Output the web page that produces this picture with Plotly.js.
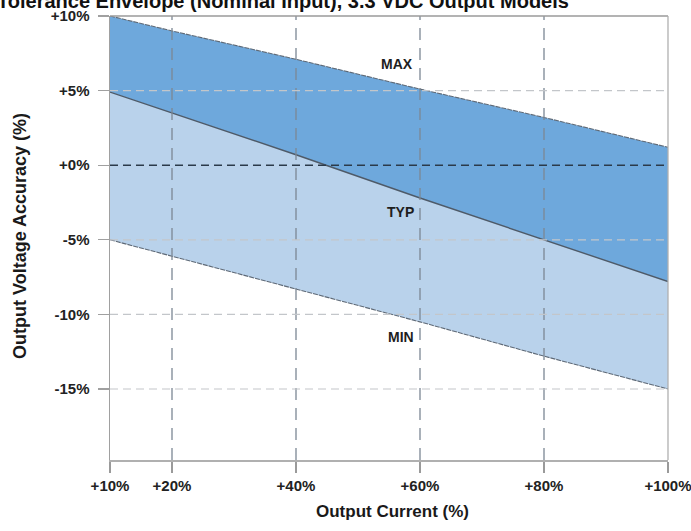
<!DOCTYPE html>
<html>
<head>
<meta charset="utf-8">
<script src="https://cdn.plot.ly/plotly-3.0.1.min.js"></script>
<style>html,body{margin:0;padding:0;background:#fff}#chart{width:691px;height:531px}</style>
</head>
<body>
<div id="chart"></div>
<script>
// Data
const outputCurrent = [10, 20, 40, 60, 80, 100];
const maxAccuracy = [10, 9.0, 7.1, 5.1, 3.2, 1.2];
const typAccuracy = [4.9, 3.5, 0.7, -2.2, -5.0, -7.8];
const minAccuracy = [-5, -6.1, -8.3, -10.5, -12.8, -15];

const xTickVals = [10, 20, 40, 60, 80, 100];
const xTickText = ['+10%', '+20%', '+40%', '+60%', '+80%', '+100%'];
const yTickVals = [10, 5, 0, -5, -10, -15];
const yTickText = ['+10%', '+5%', '+0%', '-5%', '-10%', '-15%'];
const xGridVals = [20, 40, 60, 80];
const yGridVals = [5, -5, -10, -15];
const zeroLine = [0];

const seriesLabels = [
  {text: 'MAX', x: 56.3, y: 6.8},
  {text: 'TYP', x: 56.8, y: -3.15},
  {text: 'MIN', x: 56.9, y: -11.5}
];

const FONT = 'Liberation Sans, Arial, Helvetica, sans-serif';
const darkBlue = '#6ea8dc';
const lightBlue = '#b9d2eb';
const edgeDark = '#4e5a68';
const edgeLight = '#5f6a77';

const traces = [
  {x: outputCurrent, y: minAccuracy, mode: 'lines', line: {color: edgeLight, width: 1.1, dash: '5px,1px'}, hoverinfo: 'skip'},
  {x: outputCurrent, y: typAccuracy, mode: 'lines', fill: 'tonexty', fillcolor: lightBlue, line: {color: edgeDark, width: 1.4}, hoverinfo: 'skip'},
  {x: outputCurrent, y: maxAccuracy, mode: 'lines', fill: 'tonexty', fillcolor: darkBlue, line: {color: edgeLight, width: 1.1, dash: '5px,1px'}, hoverinfo: 'skip'}
];

const shapes = [];
xGridVals.forEach(v => shapes.push({type: 'line', layer: 'above', xref: 'x', yref: 'paper', x0: v, x1: v, y0: 0, y1: 1,
  line: {color: '#7c8794', width: 1.3, dash: '12px,8px'}}));
yGridVals.forEach(v => shapes.push({type: 'line', layer: 'above', xref: 'paper', yref: 'y', x0: 0, x1: 1, y0: v, y1: v,
  line: {color: '#c3c6ca', width: 1.2, dash: '8px,5px'}}));
zeroLine.forEach(v => shapes.push({type: 'line', layer: 'above', xref: 'paper', yref: 'y', x0: 0, x1: 1, y0: v, y1: v,
  line: {color: '#2b3a4a', width: 1.6, dash: '8px,5px'}}));
// top and right frame lines
shapes.push({type: 'line', layer: 'above', xref: 'paper', yref: 'paper', x0: 0, x1: 1, y0: 1, y1: 1, line: {color: '#9a9a9a', width: 1.5}});
shapes.push({type: 'line', layer: 'above', xref: 'paper', yref: 'paper', x0: 1, x1: 1, y0: 0, y1: 1, line: {color: '#b0b0b0', width: 1.3}});

const annotations = seriesLabels.map(l => ({
  x: l.x, y: l.y, xref: 'x', yref: 'y', text: l.text, showarrow: false,
  font: {family: FONT, size: 14, color: '#1e1e1e', weight: 'bold'}
}));
annotations.push({
  text: 'Tolerance Envelope (Nominal Input), 3.3 VDC Output Models',
  xref: 'paper', yref: 'paper', x: 0.31, y: 1.0338, xanchor: 'center', yanchor: 'middle', showarrow: false,
  font: {family: FONT, size: 20, color: '#111', weight: 'bold'}
});
annotations.push({
  text: 'Output Current (%)', xref: 'paper', yref: 'paper', x: 0.507, y: -0.115, xanchor: 'center', yanchor: 'middle', showarrow: false,
  font: {family: FONT, size: 17, color: '#1a1a1a', weight: 'bold'}
});
annotations.push({
  text: 'Output Voltage Accuracy (%)', xref: 'paper', yref: 'paper', x: -0.161, y: 0.505, xanchor: 'center', yanchor: 'middle', textangle: -90, showarrow: false,
  font: {family: FONT, size: 18, color: '#1a1a1a', weight: 'bold'}
});

const layout = {
  width: 691, height: 531,
  margin: {l: 110, r: 23, t: 16, b: 71},
  paper_bgcolor: '#fff', plot_bgcolor: '#fff',
  showlegend: false,
  xaxis: {
    range: [9.999, 100.001], tickvals: xTickVals, ticktext: xTickText,
    showgrid: false, zeroline: false, showline: true, linecolor: '#b0b0b0', linewidth: 1.5,
    ticks: 'outside', ticklen: 11, tickcolor: '#9a9a9a', tickwidth: 1.2, ticklabelstandoff: 0,
    ticklabeloverflow: 'allow',
    tickfont: {family: FONT, size: 15, color: '#222', weight: 'bold'}, fixedrange: true
  },
  yaxis: {
    range: [-19.76, 10], tickvals: yTickVals, ticktext: yTickText,
    showgrid: false, zeroline: false, showline: true, linecolor: '#a0a0a0', linewidth: 1.5,
    ticks: 'outside', ticklen: 11, tickcolor: '#a0a0a0', tickwidth: 1.2, ticklabelstandoff: 5,
    ticklabeloverflow: 'allow',
    tickfont: {family: FONT, size: 15, color: '#222', weight: 'bold'}, fixedrange: true
  },
  shapes: shapes,
  annotations: annotations
};

Plotly.newPlot('chart', traces, layout, {displayModeBar: false, staticPlot: true});
</script>
</body>
</html>
